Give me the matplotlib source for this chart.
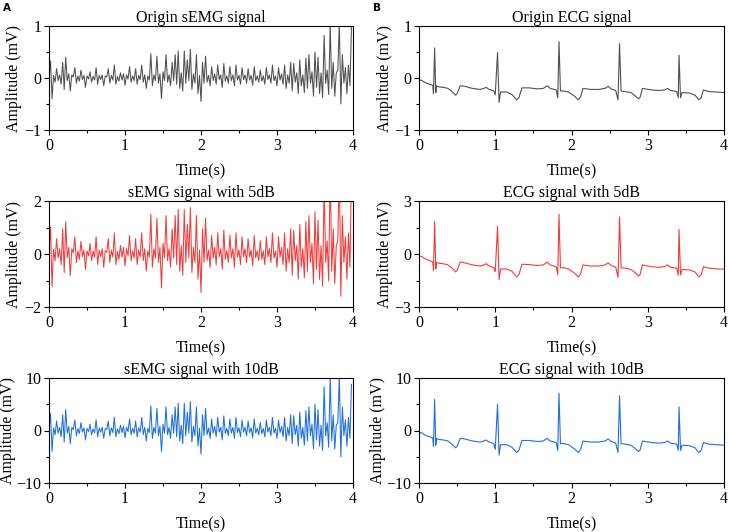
import matplotlib
matplotlib.use("Agg")
import matplotlib.pyplot as plt
from matplotlib.ticker import MultipleLocator

# ---------------- data ----------------
emg_dt = 0.02  # sample spacing (s)

emg_origin = [
    0.02, 0.33, -0.40, 0.05, -0.08, 0.18, -0.05, 0.06, -0.12, 0.30,
    -0.22, 0.40, -0.05, 0.08, -0.25, 0.06, 0.02, 0.20, -0.10, 0.04,
    -0.06, 0.15, -0.03, 0.05, -0.18, 0.04, -0.02, 0.12, -0.08, 0.03,
    -0.04, 0.20, -0.12, 0.05, -0.03, 0.06, -0.15, 0.04, 0.02, 0.18,
    -0.10, 0.05, -0.04, 0.25, -0.12, 0.03, -0.06, 0.10, -0.04, 0.08,
    -0.14, 0.06, -0.02, 0.22, -0.08, 0.04, -0.05, 0.18, -0.12, 0.05,
    -0.03, 0.25, -0.08, 0.06, -0.20, 0.04, -0.04, 0.47, -0.15, 0.06,
    -0.05, 0.42, -0.10, 0.08, -0.40, 0.12, -0.05, 0.45, -0.08, 0.06,
    -0.15, 0.30, -0.05, 0.45, -0.12, 0.52, -0.20, 0.10, -0.25, 0.52,
    -0.10, 0.35, -0.05, 0.55, -0.22, 0.08, -0.10, 0.45, -0.30, 0.05,
    -0.45, 0.30, -0.10, 0.42, -0.08, 0.05, -0.15, 0.22, -0.05, 0.08,
    -0.12, 0.25, -0.03, 0.06, -0.18, 0.28, -0.06, 0.04, -0.10, 0.22,
    -0.05, 0.06, -0.15, 0.25, -0.04, 0.05, -0.12, 0.20, -0.03, 0.06,
    -0.10, 0.18, -0.04, 0.05, -0.14, 0.22, -0.05, 0.04, -0.08, 0.15,
    -0.06, 0.04, -0.12, 0.20, -0.03, 0.06, -0.10, 0.25, -0.05, 0.04,
    -0.15, 0.20, -0.04, 0.08, -0.12, 0.25, -0.20, 0.06, -0.10, 0.30,
    -0.25, 0.28, -0.08, 0.10, -0.30, 0.35, -0.15, 0.06, -0.28, 0.38,
    -0.20, 0.45, -0.10, 0.12, -0.35, 0.50, -0.18, 0.40, -0.30, 0.10,
    -0.38, 0.82, -0.10, 0.15, -0.32, 1.05, -0.20, 0.30, -0.35, 0.10,
    0.15, 1.05, -0.50, 0.45, -0.10, 0.20, -0.30, 0.25, -0.15, 1.00,
]

emg_5db = [
    0.05, 1.02, -1.22, 0.18, -0.25, 0.58, -0.15, 0.20, -0.40, 0.95,
    -0.70, 1.22, -0.15, 0.25, -0.82, 0.20, 0.05, 0.65, -0.32, 0.12,
    -0.20, 0.48, -0.10, 0.15, -0.58, 0.12, -0.06, 0.40, -0.25, 0.10,
    -0.12, 0.65, -0.40, 0.15, -0.10, 0.20, -0.50, 0.12, 0.06, 0.58,
    -0.32, 0.15, -0.12, 0.80, -0.40, 0.10, -0.20, 0.32, -0.12, 0.25,
    -0.45, 0.20, -0.06, 0.70, -0.25, 0.12, -0.15, 0.58, -0.40, 0.15,
    -0.10, 0.80, -0.25, 0.20, -0.65, 0.12, -0.12, 1.50, -0.50, 0.20,
    -0.15, 1.35, -0.32, 0.25, -1.28, 0.40, -0.15, 1.45, -0.25, 0.20,
    -0.50, 0.95, -0.15, 1.45, -0.40, 1.68, -0.65, 0.32, -0.80, 1.68,
    -0.32, 1.12, -0.15, 1.75, -0.70, 0.25, -0.32, 1.45, -0.95, 0.15,
    -1.45, 0.95, -0.32, 1.35, -0.25, 0.15, -0.50, 0.70, -0.15, 0.25,
    -0.40, 0.80, -0.10, 0.20, -0.58, 0.90, -0.20, 0.12, -0.32, 0.70,
    -0.15, 0.20, -0.50, 0.80, -0.12, 0.15, -0.40, 0.65, -0.10, 0.20,
    -0.32, 0.58, -0.12, 0.15, -0.45, 0.70, -0.15, 0.12, -0.25, 0.50,
    -0.20, 0.12, -0.40, 0.65, -0.10, 0.20, -0.32, 0.80, -0.15, 0.12,
    -0.50, 0.65, -0.12, 0.25, -0.40, 0.80, -0.65, 0.20, -0.32, 0.95,
    -0.80, 0.90, -0.25, 0.32, -0.95, 1.12, -0.50, 0.20, -0.90, 1.22,
    -0.65, 1.45, -0.32, 0.40, -1.12, 1.60, -0.58, 1.28, -0.95, 0.32,
    -1.22, 2.60, -0.32, 0.50, -1.02, 3.35, -0.65, 0.95, -1.12, 0.32,
    0.50, 3.35, -1.60, 1.45, -0.32, 0.65, -0.95, 0.80, -0.50, 3.20,
]

emg_10db = [
    0.2, 3.3, -4.0, 0.5, -0.8, 1.8, -0.5, 0.6, -1.2, 3.0,
    -2.2, 4.0, -0.5, 0.8, -2.5, 0.6, 0.2, 2.0, -1.0, 0.4,
    -0.6, 1.5, -0.3, 0.5, -1.8, 0.4, -0.2, 1.2, -0.8, 0.3,
    -0.4, 2.0, -1.2, 0.5, -0.3, 0.6, -1.5, 0.4, 0.2, 1.8,
    -1.0, 0.5, -0.4, 2.5, -1.2, 0.3, -0.6, 1.0, -0.4, 0.8,
    -1.4, 0.6, -0.2, 2.2, -0.8, 0.4, -0.5, 1.8, -1.2, 0.5,
    -0.3, 2.5, -0.8, 0.6, -2.0, 0.4, -0.4, 4.7, -1.5, 0.6,
    -0.5, 4.2, -1.0, 0.8, -4.0, 1.2, -0.5, 4.5, -0.8, 0.6,
    -1.5, 3.0, -0.5, 4.5, -1.2, 5.2, -2.0, 1.0, -2.5, 5.2,
    -1.0, 3.5, -0.5, 5.5, -2.2, 0.8, -1.0, 4.5, -3.0, 0.5,
    -4.5, 3.0, -1.0, 4.2, -0.8, 0.5, -1.5, 2.2, -0.5, 0.8,
    -1.2, 2.5, -0.3, 0.6, -1.8, 2.8, -0.6, 0.4, -1.0, 2.2,
    -0.5, 0.6, -1.5, 2.5, -0.4, 0.5, -1.2, 2.0, -0.3, 0.6,
    -1.0, 1.8, -0.4, 0.5, -1.4, 2.2, -0.5, 0.4, -0.8, 1.5,
    -0.6, 0.4, -1.2, 2.0, -0.3, 0.6, -1.0, 2.5, -0.5, 0.4,
    -1.5, 2.0, -0.4, 0.8, -1.2, 2.5, -2.0, 0.6, -1.0, 3.0,
    -2.5, 2.8, -0.8, 1.0, -3.0, 3.5, -1.5, 0.6, -2.8, 3.8,
    -2.0, 4.5, -1.0, 1.2, -3.5, 5.0, -1.8, 4.0, -3.0, 1.0,
    -3.8, 8.3, -1.0, 1.5, -3.2, 10.5, -2.0, 3.0, -3.5, 1.0,
    1.5, 10.5, -5.0, 4.5, -1.0, 2.0, -3.0, 2.5, -1.5, 8.8,
]

ecg_time = [
    0.00, 0.03, 0.06, 0.10, 0.14, 0.18, 0.19, 0.205, 0.22, 0.23,
    0.26, 0.32, 0.38, 0.44, 0.48, 0.50, 0.54, 0.60, 0.70, 0.80,
    0.85, 0.88, 0.92, 0.98, 1.00, 1.03, 1.05, 1.07, 1.15, 1.22,
    1.28, 1.31, 1.35, 1.45, 1.55, 1.63, 1.68, 1.72, 1.80, 1.82,
    1.836, 1.855, 1.90, 1.96, 2.04, 2.09, 2.12, 2.15, 2.25, 2.35,
    2.44, 2.48, 2.52, 2.58, 2.61, 2.63, 2.65, 2.70, 2.78, 2.84,
    2.88, 2.90, 2.93, 3.05, 3.15, 3.22, 3.26, 3.30, 3.38, 3.40,
    3.41, 3.43, 3.45, 3.55, 3.62, 3.67, 3.70, 3.73, 3.80, 3.90,
    4.00,
]

ecg_origin = [
    -0.05, -0.04, -0.07, -0.10, -0.12, -0.14, -0.30, 0.58, -0.28, -0.15,
    -0.17, -0.18, -0.20, -0.27, -0.33, -0.30, -0.15, -0.16, -0.20, -0.22,
    -0.20, -0.18, -0.22, -0.25, -0.32, 0.49, -0.47, -0.27, -0.27, -0.32,
    -0.42, -0.38, -0.19, -0.19, -0.21, -0.20, -0.15, -0.20, -0.23, -0.38,
    0.70, -0.25, -0.25, -0.27, -0.35, -0.42, -0.36, -0.20, -0.22, -0.22,
    -0.20, -0.16, -0.21, -0.24, -0.42, 0.66, -0.25, -0.26, -0.28, -0.35,
    -0.40, -0.37, -0.20, -0.23, -0.24, -0.23, -0.20, -0.24, -0.26, -0.38,
    0.44, -0.38, -0.28, -0.29, -0.33, -0.42, -0.38, -0.23, -0.26, -0.27,
    -0.28,
]

ecg_5db = [
    -0.15, -0.12, -0.22, -0.30, -0.38, -0.45, -0.92, 1.85, -0.85, -0.48,
    -0.52, -0.55, -0.62, -0.82, -1.02, -0.92, -0.45, -0.50, -0.62, -0.68,
    -0.62, -0.55, -0.68, -0.78, -1.00, 1.58, -1.45, -0.85, -0.85, -0.98,
    -1.30, -1.18, -0.58, -0.60, -0.65, -0.62, -0.46, -0.62, -0.72, -1.18,
    2.25, -0.78, -0.78, -0.85, -1.08, -1.30, -1.12, -0.62, -0.68, -0.68,
    -0.62, -0.50, -0.65, -0.75, -1.32, 2.10, -0.78, -0.80, -0.88, -1.08,
    -1.25, -1.15, -0.62, -0.72, -0.75, -0.72, -0.62, -0.75, -0.80, -1.20,
    1.40, -1.18, -0.88, -0.90, -1.02, -1.30, -1.18, -0.72, -0.80, -0.84,
    -0.86,
]

ecg_10db = [
    -0.5, -0.4, -0.7, -1.0, -1.2, -1.4, -3.0, 5.9, -2.8, -1.5,
    -1.7, -1.8, -2.0, -2.7, -3.3, -3.0, -1.5, -1.6, -2.0, -2.2,
    -2.0, -1.8, -2.2, -2.5, -3.6, 5.0, -4.7, -2.7, -2.7, -3.2,
    -4.2, -3.8, -1.9, -1.9, -2.1, -2.0, -1.5, -2.0, -2.3, -3.8,
    7.1, -2.5, -2.5, -2.7, -3.5, -4.2, -3.6, -2.0, -2.2, -2.2,
    -2.0, -1.6, -2.1, -2.4, -4.2, 6.6, -2.5, -2.6, -2.8, -3.5,
    -4.0, -3.7, -2.0, -2.3, -2.4, -2.3, -2.0, -2.4, -2.6, -3.8,
    4.5, -3.8, -2.8, -2.9, -3.3, -4.2, -3.8, -2.3, -2.6, -2.7,
    -2.8,
]

titles_left = ["Origin sEMG signal", "sEMG signal with 5dB", "sEMG signal with 10dB"]
titles_right = ["Origin ECG signal", "ECG signal with 5dB", "ECG signal with 10dB"]
ylims_left = [1, 2, 10]
ylims_right = [1, 3, 10]
colors = ["#505050", "#f03c3c", "#1f6fdc"]
xlabel_text = "Time(s)"
ylabel_text = "Amplitude (mV)"

# ---------------- figure ----------------
W, H = 729, 532
fig = plt.figure(figsize=(W / 100, H / 100), dpi=100)
serif = ["Liberation Serif", "DejaVu Serif"]
plt.rcParams["font.family"] = serif
plt.rcParams["axes.unicode_minus"] = True

rows_px = [(26, 130), (201, 307), (378, 483)]
cols_px = [(49, 353), (419, 724)]
# ylabel centre x (pixels) per [column][row]
ylabel_x_px = [[14, 14, 8], [385, 385, 378]]
FS = 11.5

emg_series = [emg_origin, emg_5db, emg_10db]
ecg_series = [ecg_origin, ecg_5db, ecg_10db]
emg_t = [i * emg_dt for i in range(len(emg_origin))]


def make_ax(col, row):
    x0, x1 = cols_px[col]
    t0, t1 = rows_px[row]
    return fig.add_axes([x0 / W, (H - t1) / H, (x1 - x0) / W, (t1 - t0) / H])


for r in range(3):
    for c in range(2):
        ax = make_ax(c, r)
        if c == 0:
            ax.plot(emg_t, emg_series[r], color=colors[r], lw=0.75)
            lim = ylims_left[r]
            ax.set_title(titles_left[r], fontsize=FS, pad=3)
        else:
            ax.plot(ecg_time, ecg_series[r], color=colors[r], lw=0.8)
            lim = ylims_right[r]
            ax.set_title(titles_right[r], fontsize=FS, pad=3)
        ax.set_xlim(0, 4)
        ax.set_ylim(-lim, lim)
        ax.set_yticks([-lim, 0, lim])
        ax.yaxis.set_minor_locator(MultipleLocator(lim / 2))
        ax.xaxis.set_major_locator(MultipleLocator(1))
        ax.xaxis.set_minor_locator(MultipleLocator(0.5))
        ax.tick_params(which="major", direction="out", length=3.5, width=0.8,
                       labelsize=FS, pad=2)
        ax.tick_params(which="minor", direction="out", length=2.5, width=0.8)
        for s in ax.spines.values():
            s.set_linewidth(0.8)
        ax.set_xlabel(xlabel_text, fontsize=FS, labelpad=7)
        ax.set_ylabel(ylabel_text, fontsize=FS)
        x0, x1 = cols_px[c]
        ax.yaxis.set_label_coords((ylabel_x_px[c][r] - x0) / (x1 - x0), 0.5)
        ax.yaxis.label.set_va("center")

fig.text(3 / W, 1 - 8 / H, "A", fontsize=7.5, fontweight="bold",
         family=["DejaVu Sans"], va="center", ha="left")
fig.text(373 / W, 1 - 8 / H, "B", fontsize=7.5, fontweight="bold",
         family=["DejaVu Sans"], va="center", ha="left")

fig.savefig("out.png", dpi=100)
